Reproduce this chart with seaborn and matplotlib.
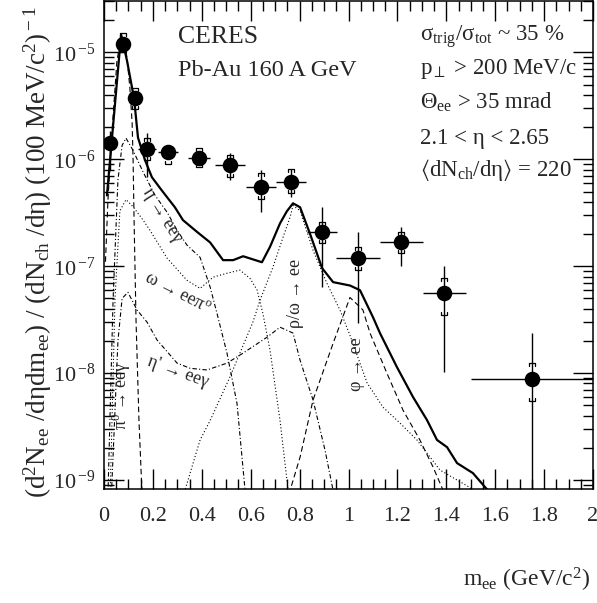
import math
import matplotlib
matplotlib.use('Agg')
import matplotlib.pyplot as plt
import matplotlib.ticker as mticker
import seaborn as sns

# measured points: mass (GeV/c^2), bin half width, yield, stat and syst limits
m_data = [0.025, 0.078, 0.127, 0.176, 0.262, 0.389, 0.515, 0.642, 0.765, 0.892, 1.039, 1.215, 1.391, 1.75]
m_half = [0.0, 0.0, 0.0, 0.035, 0.04, 0.045, 0.06, 0.06, 0.06, 0.06, 0.09, 0.088, 0.088, 0.25]
y_data = [1.41e-6, 1.21e-5, 3.72e-6, 1.24e-6, 1.16e-6, 1.04e-6, 8.8e-7, 5.5e-7, 6.2e-7, 2.08e-7, 1.19e-7, 1.67e-7, 5.6e-8, 8.8e-9]
stat_hi = [1.85e-6, 1.3e-5, 4.2e-6, 1.75e-6, 1.28e-6, 1.2e-6, 1.14e-6, 7.9e-7, 8.2e-7, 3.56e-7, 2.08e-7, 2.31e-7, 1.0e-7, 2.37e-8]
stat_lo = [8.0e-7, 1.1e-5, 3.3e-6, 6.8e-7, 1.03e-6, 9.0e-7, 6.4e-7, 3.2e-7, 4.4e-7, 6.4e-8, 2.93e-8, 1.0e-7, 1.02e-8, 1e-10]
sys_hi = [1.41e-6, 1.51e-5, 4.6e-6, 1.57e-6, 1.32e-6, 1.29e-6, 1.09e-6, 7.4e-7, 8.1e-7, 2.58e-7, 1.51e-7, 2.08e-7, 7.7e-8, 1.24e-8]
sys_lo = [1.41e-6, 1.0e-5, 2.93e-6, 9.8e-7, 9.0e-7, 8.4e-7, 6.8e-7, 4.3e-7, 4.8e-7, 1.64e-7, 9.2e-8, 1.32e-7, 3.48e-8, 5.5e-9]

# hadronic cocktail
m_total = [0.012, 0.070, 0.094, 0.123, 0.139, 0.168, 0.196, 0.237, 0.290, 0.323, 0.380, 0.434, 0.487,
           0.528, 0.569, 0.646, 0.679, 0.720, 0.748, 0.773, 0.802, 0.843, 0.892, 0.937, 1.006, 1.047,
           1.100, 1.129, 1.198, 1.264, 1.321, 1.362, 1.403, 1.444, 1.509, 1.566, 1.60]
y_total = [4.6e-7, 1.47e-5, 8.4e-6, 3.7e-6, 1.6e-6, 9.8e-7, 6.8e-7, 5.1e-7, 3.56e-7, 2.7e-7, 2.1e-7, 1.67e-7, 1.14e-7,
           1.14e-7, 1.24e-7, 1.09e-7, 1.52e-7, 2.52e-7, 3.27e-7, 3.88e-7, 3.56e-7, 2.0e-7, 9.6e-8, 7.1e-8, 6.6e-8, 5.97e-8,
           3.34e-8, 2.36e-8, 1.14e-8, 5.97e-9, 3.64e-9, 2.37e-9, 2.03e-9, 1.44e-9, 1.16e-9, 8.2e-10, 6e-10]

m_pi0 = [0.006, 0.016, 0.033, 0.053, 0.070, 0.082, 0.094, 0.106, 0.115, 0.119, 0.123, 0.131, 0.143, 0.155, 0.16]
y_pi0 = [1.1e-7, 4.1e-7, 1.87e-6, 8.4e-6, 1.38e-5, 1.24e-5, 9.0e-6, 4.6e-6, 2.2e-6, 9.8e-7, 2.7e-7, 3.1e-8, 3.6e-9, 8e-10, 5e-10]

m_eta = [0.016, 0.037, 0.057, 0.074, 0.090, 0.119, 0.160, 0.209, 0.258, 0.299, 0.339, 0.393, 0.434, 0.462, 0.503, 0.544, 0.577, 0.585]
y_eta = [7e-10, 4.8e-8, 6.4e-7, 1.35e-6, 1.58e-6, 1.21e-6, 7.6e-7, 4.6e-7, 3.2e-7, 2.17e-7, 1.58e-7, 1.21e-7, 6.4e-8, 3.63e-8, 1.54e-8, 5.2e-9, 8e-10, 5e-10]

m_omega_dalitz = [0.025, 0.045, 0.065, 0.090, 0.119, 0.160, 0.188, 0.258, 0.339, 0.393, 0.446, 0.503, 0.556, 0.597, 0.626, 0.650, 0.679, 0.720, 0.753, 0.76]
y_omega_dalitz = [7e-10, 5e-8, 3.3e-7, 4.2e-7, 3.6e-7, 2.7e-7, 2.17e-7, 1.19e-7, 7.4e-8, 6.2e-8, 7.9e-8, 8.6e-8, 9.2e-8, 7.7e-8, 6.0e-8, 3.6e-8, 1.64e-8, 3.6e-9, 8e-10, 5e-10]

m_etap = [0.030, 0.057, 0.074, 0.098, 0.135, 0.176, 0.217, 0.299, 0.352, 0.421, 0.503, 0.569, 0.667, 0.720, 0.773, 0.802, 0.855, 0.904, 0.937, 0.945]
y_etap = [7e-10, 2e-8, 5.0e-8, 5.7e-8, 3.9e-8, 3.0e-8, 2.04e-8, 1.24e-8, 1.11e-8, 1.07e-8, 1.24e-8, 1.54e-8, 2.17e-8, 2.69e-8, 2.37e-8, 1.32e-8, 5.6e-9, 1.9e-9, 8e-10, 5e-10]

m_rho = [0.325, 0.331, 0.393, 0.434, 0.515, 0.609, 0.638, 0.691, 0.730, 0.761, 0.773, 0.802, 0.855, 0.912, 0.965,
         1.006, 1.076, 1.141, 1.211, 1.280, 1.374, 1.444, 1.497, 1.53]
y_rho = [5e-10, 8e-10, 2.37e-9, 3.6e-9, 9.2e-9, 3.0e-8, 4.8e-8, 9.8e-8, 1.8e-7, 2.87e-7, 3.7e-7, 3.3e-7, 1.41e-7, 6.9e-8, 3.9e-8,
         2.26e-8, 8.1e-9, 4.8e-9, 3.4e-9, 2.37e-9, 1.24e-9, 1.0e-9, 8.5e-10, 6e-10]

m_phi = [0.755, 0.761, 0.802, 0.855, 0.937, 1.006, 1.059, 1.088, 1.157, 1.223, 1.292, 1.346, 1.387, 1.395]
y_phi = [5e-10, 8e-10, 1.64e-9, 5.6e-9, 1.9e-8, 5.1e-8, 3.9e-8, 2.37e-8, 1.0e-8, 4.5e-9, 2.37e-9, 1.32e-9, 8e-10, 5e-10]

x_ticks = [0, 0.2, 0.4, 0.6, 0.8, 1.0, 1.2, 1.4, 1.6, 1.8, 2.0]
y_ticks = [1e-9, 1e-8, 1e-7, 1e-6, 1e-5]

sns.set_theme(style='ticks')
plt.rcParams['font.family'] = ['Liberation Serif', 'DejaVu Serif']
plt.rcParams['mathtext.fontset'] = 'custom'
plt.rcParams['mathtext.rm'] = 'Liberation Serif'
plt.rcParams['mathtext.it'] = 'Liberation Serif:italic'
plt.rcParams['mathtext.fallback'] = 'stix'

fig = plt.figure(figsize=(5.97, 6.03), dpi=100)
ax = fig.add_axes([104 / 597, 114 / 603, 489 / 597, 488.5 / 603])
ax.set_yscale('log')

# cocktail curves
thin = 0.8
sns.lineplot(x=m_pi0, y=y_pi0, ax=ax, color='black', lw=thin, linestyle=(0, (5, 3)), sort=False, estimator=None)
sns.lineplot(x=m_eta, y=y_eta, ax=ax, color='black', lw=thin, linestyle=(0, (4, 2, 1, 2)), sort=False, estimator=None)
sns.lineplot(x=m_omega_dalitz, y=y_omega_dalitz, ax=ax, color='black', lw=thin, linestyle=(0, (1, 2)), sort=False, estimator=None)
sns.lineplot(x=m_etap, y=y_etap, ax=ax, color='black', lw=thin, linestyle=(0, (4, 2, 1, 2)), sort=False, estimator=None)
sns.lineplot(x=m_rho, y=y_rho, ax=ax, color='black', lw=thin, linestyle=(0, (1, 2)), sort=False, estimator=None)
sns.lineplot(x=m_phi, y=y_phi, ax=ax, color='black', lw=thin, linestyle=(0, (5, 3)), sort=False, estimator=None)
sns.lineplot(x=m_total, y=y_total, ax=ax, color='black', lw=1.6, sort=False, estimator=None)

# data: stat errors, bin widths
yerr = [[y - lo for y, lo in zip(y_data, stat_lo)], [hi - y for y, hi in zip(y_data, stat_hi)]]
ax.errorbar(m_data, y_data, xerr=m_half, yerr=yerr, fmt='none', ecolor='black', elinewidth=1.0, capsize=0, zorder=4)

# systematic brackets
bw = 0.012
tip = 10 ** (-3.0 / 107)
for x, y, hi, lo in zip(m_data, y_data, sys_hi, sys_lo):
    if hi > y * 1.15:
        ax.plot([x - bw, x - bw, x + bw, x + bw], [hi * tip, hi, hi, hi * tip], color='black', lw=0.9, zorder=4)
    if lo < y / 1.15:
        ax.plot([x - bw, x - bw, x + bw, x + bw], [lo / tip, lo, lo, lo / tip], color='black', lw=0.9, zorder=4)

sns.scatterplot(x=m_data, y=y_data, ax=ax, color='black', s=125, edgecolor='black', linewidth=0, zorder=5)

ax.set_xlim(0, 2)
ax.set_ylim(10 ** -9.084, 10 ** -4.514)

ax.xaxis.set_major_locator(mticker.FixedLocator(x_ticks))
ax.xaxis.set_minor_locator(mticker.MultipleLocator(0.05))
ax.xaxis.set_major_formatter(mticker.FuncFormatter(lambda v, p: '%g' % round(v, 2)))
ax.yaxis.set_major_locator(mticker.FixedLocator(y_ticks))
ax.yaxis.set_minor_locator(mticker.LogLocator(base=10, subs=range(2, 10), numticks=20))
ax.yaxis.set_minor_formatter(mticker.NullFormatter())
ax.yaxis.set_major_formatter(mticker.FuncFormatter(lambda v, p: r'$10^{\,\mathrm{-%d}}$' % round(-math.log10(v))))

ax.tick_params(which='both', direction='in', top=True, right=True, color='black', width=1.0)
ax.tick_params(which='major', length=14.4)
ax.tick_params(which='minor', length=7.2)
ax.tick_params(axis='x', which='major', labelsize=16, pad=13)
ax.tick_params(axis='y', which='major', labelsize=16, pad=6)
for s in ax.spines.values():
    s.set_color('black')
    s.set_linewidth(1.1)
ax.set_xlabel('')
ax.set_ylabel('')

# annotations
ax.text(0.151, 0.926, 'CERES', transform=ax.transAxes, fontsize=18.5, va='center')
ax.text(0.151, 0.857, 'Pb-Au 160 A GeV', transform=ax.transAxes, fontsize=17.5, va='center')
right_lines = [r'σ$_{\rm trig}$/σ$_{\rm tot}$ ~ 35 %',
               r'p$_{\perp}$ > 200 MeV/c',
               r'Θ$_{\rm ee}$ > 35 mrad',
               '2.1 < η < 2.65',
               r'$\langle$dN$_{\rm ch}$/dη$\rangle$ = 220']
for txt, yy in zip(right_lines, [0.926, 0.859, 0.791, 0.718, 0.652]):
    ax.text(0.646, yy, txt, transform=ax.transAxes, fontsize=16.5, va='center')

lfs = 13
ax.text(0.237, 3.0e-7, 'η → eeγ', fontsize=lfs, rotation=-58, ha='center', va='center')
ax.text(0.299, 5.6e-8, r'ω → eeπ$^{\rm o}$', fontsize=lfs, rotation=-27, ha='center', va='center')
ax.text(0.303, 1.02e-8, "η' → eeγ", fontsize=lfs, rotation=-20, ha='center', va='center')
ax.text(0.07, 6.1e-9, r'π$^{\rm 0}$ → eeγ', fontsize=lfs, rotation=90, ha='center', va='center')
ax.text(0.785, 5.6e-8, 'ρ/ω → ee', fontsize=lfs, rotation=90, ha='center', va='center')
ax.text(1.031, 1.21e-8, 'φ → ee', fontsize=lfs, rotation=90, ha='center', va='center')

fig.text(38 / 597, 1 - 252 / 603,
         r'(d$^{2}$N$_{\rm ee}$ /dηdm$_{\rm ee}$) / (dN$_{\rm ch}$ /dη) (100 MeV/c$^{2}$)$^{\rm -1}$',
         rotation=90, ha='center', va='center', fontsize=19.5)
fig.text(590 / 597, 1 - 580 / 603, r'm$_{\rm ee}$ (GeV/c$^{2}$)', ha='right', va='center', fontsize=17)

fig.savefig('out.png', dpi=100, facecolor='white')
